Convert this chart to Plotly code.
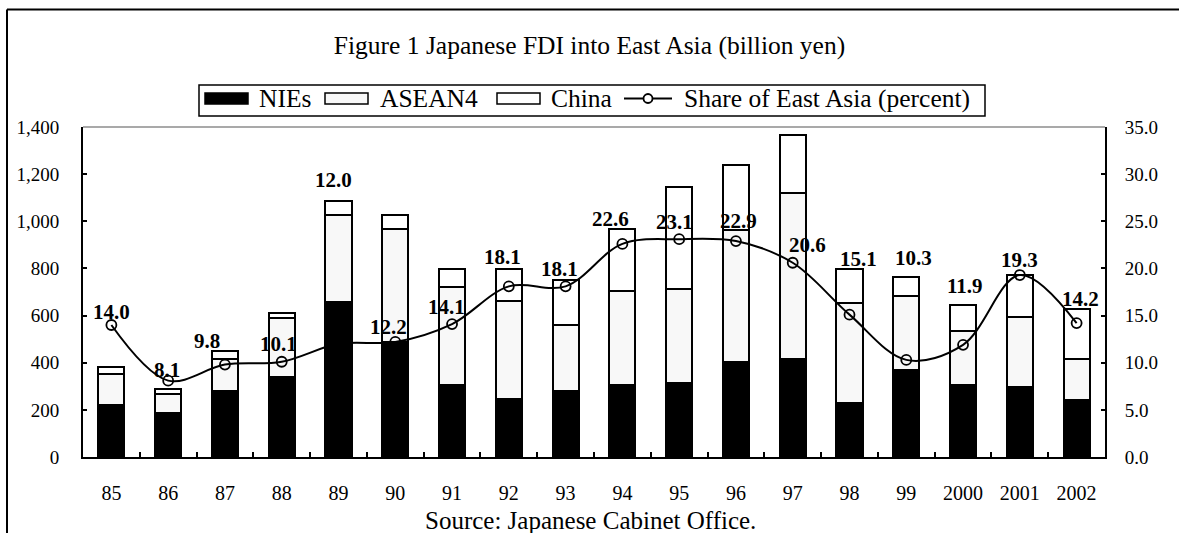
import plotly.graph_objects as go

# Japanese FDI into East Asia, billion yen, by destination
years = ["85", "86", "87", "88", "89", "90", "91", "92", "93", "94", "95",
         "96", "97", "98", "99", "2000", "2001", "2002"]
nies = [221, 188, 282, 340, 657, 490, 306, 247, 282, 306, 316, 401, 417, 231,
        367, 306, 297, 240]
asean4 = [132, 80, 135, 251, 368, 478, 414, 414, 280, 397, 397, 561, 705, 423,
          315, 227, 299, 176]
china = [29, 20, 33, 19, 61, 60, 79, 138, 191, 266, 433, 278, 244, 145, 83,
         112, 177, 211]
# East Asia share of total Japanese FDI, percent
share = [14.0, 8.1, 9.8, 10.1, 12.0, 12.2, 14.1, 18.1, 18.1, 22.6, 23.1, 22.9,
         20.6, 15.1, 10.3, 11.9, 19.3, 14.2]

# pixel nudges for the share labels (x, y)
label_dx = [0, -1, -18, -3, -5, -7, -6, -6, -6, -12, -5, 3, 15, 9, 7, 2, 0, 4]
label_dy = [13, 11, 24, 18, 164, 15, 17, 29, 17, 25, 17, 20, 18, 56, 102, 59, 15, 24]

W, H = 1179, 533
L, R, T, B = 83, 1105, 127, 457
SERIF = "Liberation Serif, Times New Roman, serif"


def px(x):
    return (x - L) / (R - L)


def py(y):
    return (B - y) / (B - T)


fig = go.Figure()
bar_line = dict(color="black", width=2)
fig.add_trace(go.Bar(x=years, y=nies, name="NIEs",
                     marker=dict(color="black", line=bar_line)))
fig.add_trace(go.Bar(x=years, y=asean4, name="ASEAN4",
                     marker=dict(color="#f8f8f8", line=bar_line)))
fig.add_trace(go.Bar(x=years, y=china, name="China",
                     marker=dict(color="white", line=bar_line)))
fig.add_trace(go.Scatter(x=years, y=share, yaxis="y2",
                         name="Share of East Asia (percent)",
                         mode="lines+markers",
                         line=dict(color="black", width=2, shape="spline",
                                   smoothing=1.0),
                         marker=dict(symbol="circle-open", size=10,
                                     color="black", line=dict(width=1.8))))

annotations = []
# on a category axis, annotations take the category's serial number
for i, v in enumerate(share):
    annotations.append(dict(x=i, y=v, xref="x", yref="y2", text=f"{v:.1f}",
                            showarrow=False, xshift=label_dx[i],
                            yshift=label_dy[i], yanchor="middle",
                            font=dict(family=SERIF, size=21, color="black",
                                      weight="bold")))

# hand-built legend box
shapes = []
leg_top, leg_bot = 85, 116
shapes.append(dict(type="rect", xref="paper", yref="paper",
                   x0=px(199), x1=px(985), y0=py(leg_bot), y1=py(leg_top),
                   line=dict(color="black", width=1.5), fillcolor="white"))
sw_y0, sw_y1 = 93, 104
for x0, fill in [(205, "black"), (325, "#f8f8f8"), (497, "white")]:
    shapes.append(dict(type="rect", xref="paper", yref="paper",
                       x0=px(x0), x1=px(x0 + 43), y0=py(sw_y1), y1=py(sw_y0),
                       line=dict(color="black", width=1.5), fillcolor=fill))
shapes.append(dict(type="line", xref="paper", yref="paper",
                   x0=px(624), x1=px(672), y0=py(98.5), y1=py(98.5),
                   line=dict(color="black", width=2)))
shapes.append(dict(type="circle", xref="paper", yref="paper",
                   x0=px(643.5), x1=px(652.5), y0=py(103), y1=py(94),
                   line=dict(color="black", width=1.8), fillcolor="white"))
for x0, txt in [(257, "NIEs"), (378, "ASEAN4"), (549, "China"),
                (682, "Share of East Asia (percent)")]:
    annotations.append(dict(x=px(x0), y=py(99), xref="paper", yref="paper",
                            text=txt, showarrow=False, xanchor="left",
                            yanchor="middle",
                            font=dict(family=SERIF, size=25.5, color="black")))

# outer frame (top and left edges) and grey top border of the plot area
shapes.append(dict(type="line", xref="paper", yref="paper",
                   x0=px(7), x1=px(W + 5), y0=py(9.5), y1=py(9.5),
                   line=dict(color="black", width=2)))
shapes.append(dict(type="line", xref="paper", yref="paper",
                   x0=px(7), x1=px(7), y0=py(9.5), y1=py(H + 5),
                   line=dict(color="black", width=2)))
shapes.append(dict(type="line", xref="paper", yref="paper",
                   x0=0, x1=1, y0=1, y1=1,
                   line=dict(color="#8c8c8c", width=1.5)))

annotations.append(dict(x=px(590), y=py(520), xref="paper", yref="paper",
                        text="Source: Japanese Cabinet Office.", showarrow=False,
                        yanchor="middle",
                        font=dict(family=SERIF, size=25, color="black")))

fig.update_layout(
    width=W, height=H,
    margin=dict(l=L, r=W - R, t=T, b=H - B, pad=0),
    paper_bgcolor="white", plot_bgcolor="white",
    barmode="stack", bargap=0.54,
    showlegend=False,
    title=dict(text="Figure 1 Japanese FDI into East Asia (billion yen)",
               x=0.5, xanchor="center", y=1 - 45 / H, yanchor="middle",
               font=dict(family=SERIF, size=25.5, color="black")),
    font=dict(family=SERIF, color="black"),
    xaxis=dict(type="category", categoryorder="array", categoryarray=years,
               range=[-0.5, len(years) - 0.5],
               showline=True, linecolor="black", linewidth=2,
               ticks="inside", tickson="boundaries", ticklen=5, tickwidth=1.5,
               tickcolor="black", showgrid=False, ticklabelstandoff=17,
               tickangle=0,
               tickfont=dict(family=SERIF, size=20, color="black")),
    yaxis=dict(range=[0, 1400], dtick=200, tickformat=",", showline=True,
               linecolor="black", linewidth=2, ticks="inside", ticklen=4,
               tickwidth=1.5, tickcolor="black", showgrid=False, zeroline=False,
               ticklabelstandoff=18,
               tickfont=dict(family=SERIF, size=19, color="black")),
    yaxis2=dict(range=[0, 35], dtick=5, tickformat=".1f", overlaying="y",
                side="right", showline=True, linecolor="black", linewidth=2,
                ticks="inside", ticklen=4, tickwidth=1.5, tickcolor="black",
                showgrid=False, zeroline=False, ticklabelstandoff=14,
                tickfont=dict(family=SERIF, size=19, color="black")),
    shapes=shapes,
    annotations=annotations,
)

fig.write_html("out.html")
